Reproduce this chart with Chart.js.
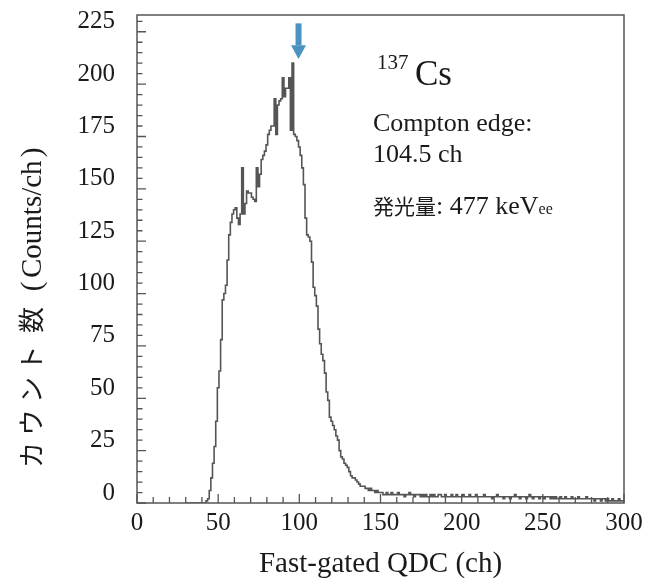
<!DOCTYPE html>
<html>
<head>
<meta charset="utf-8">
<script src="https://cdn.jsdelivr.net/npm/chart.js"></script>
<style>
  body { margin: 0; background: #fff; }
</style>
</head>
<body>
<canvas id="chart" width="658" height="582"></canvas>
<script>
// first channel of the histogram, one count per channel after it
const firstChannel = 30;

const counts = [
  // 30-43
  0, 0, 0, 0, 0, 0, 0, 0, 0, 0, 0, 0, 0, 1,
  // 44-150
  2, 6, 12, 19, 27, 39, 55, 63, 78, 97,
  100, 104, 116, 128, 134, 138, 140, 141, 136, 133,
  138, 160, 138, 143, 149, 148, 148, 146, 145, 144,
  160, 151, 157, 164, 166, 168, 171, 176, 178, 180,
  180, 193, 176, 190, 192, 193, 203, 194, 198, 198,
  203, 178, 210, 176, 175, 173, 170, 166, 160, 152,
  136, 128, 127, 125, 115, 103, 99, 94, 83, 76,
  71, 68, 62, 53, 49, 41, 39, 37, 35, 32,
  30, 25, 22, 21, 19, 18, 17, 15, 13, 12,
  12, 11, 10, 9, 8, 8, 8, 7, 7, 6,
  7, 6, 6, 5, 6, 5, 5,
  // 151-175
  5, 4, 4, 5, 4, 4, 5, 4, 4, 4, 5, 4, 4, 4, 3, 4, 4, 5, 4, 4, 3, 4, 4, 4, 3,
  // 176-215
  4, 3, 4, 3, 3, 4, 3, 4, 3, 3, 4, 4, 3, 3, 4, 3, 3, 3, 4, 3,
  3, 4, 3, 3, 3, 4, 3, 3, 3, 4, 3, 3, 3, 4, 3, 3, 3, 3, 4, 3,
  // 216-255
  3, 3, 3, 2, 3, 3, 4, 3, 3, 3, 2, 3, 3, 3, 2, 3, 3, 4, 3, 3,
  2, 3, 3, 3, 2, 3, 4, 3, 2, 3, 3, 3, 2, 3, 3, 2, 3, 3, 3, 2,
  // 256-300
  3, 2, 3, 2, 2, 3, 2, 2, 3, 2, 2, 2, 3, 2, 2, 2, 3, 2, 2, 2, 2, 3, 2,
  2, 2, 2, 1, 2, 2, 2, 1, 2, 2, 1, 2, 1, 1, 2, 1, 1, 1, 2, 1, 1, 1
];

const xTicks = [0, 50, 100, 150, 200, 250, 300];
const yTicks = [0, 25, 50, 75, 100, 125, 150, 175, 200, 225];

// marker above the peak (channel, counts)
const arrowChannel = 99.5;
const arrowTop = 229;
const arrowHeadBase = 218.5;
const arrowTip = 212;

const serif = "'Liberation Serif', 'Times New Roman', serif";
const cjk = "'Noto Sans CJK JP', sans-serif";

const points = counts.map((c, i) => ({ x: firstChannel + i, y: c }));

const decor = {
  id: 'decor',
  afterDraw(chart) {
    const { ctx, chartArea: a, scales: { x, y } } = chart;
    ctx.save();

    // frame
    ctx.strokeStyle = '#555';
    ctx.lineWidth = 1.5;
    ctx.strokeRect(a.left, a.top, a.right - a.left, a.bottom - a.top);

    // inward tick marks, major + minor
    ctx.lineWidth = 1.3;
    ctx.beginPath();
    for (let v = 0; v <= 300; v += 10) {
      const px = x.getPixelForValue(v);
      const len = v % 50 === 0 ? 9 : 6;
      ctx.moveTo(px, a.bottom);
      ctx.lineTo(px, a.bottom - len);
    }
    for (let v = 0; v <= 230; v += 5) {
      const py = y.getPixelForValue(v);
      const len = v % 25 === 0 ? 9 : 5.5;
      ctx.moveTo(a.left, py);
      ctx.lineTo(a.left + len, py);
    }
    ctx.stroke();

    // arrow
    const ax = x.getPixelForValue(arrowChannel);
    ctx.fillStyle = '#4a93c0';
    ctx.fillRect(ax - 3, y.getPixelForValue(arrowTop), 6, y.getPixelForValue(arrowHeadBase) - y.getPixelForValue(arrowTop));
    ctx.beginPath();
    ctx.moveTo(ax - 7.5, y.getPixelForValue(arrowHeadBase));
    ctx.lineTo(ax + 7.5, y.getPixelForValue(arrowHeadBase));
    ctx.lineTo(ax, y.getPixelForValue(arrowTip));
    ctx.closePath();
    ctx.fill();

    // annotations
    ctx.fillStyle = '#1a1a1a';
    ctx.textBaseline = 'alphabetic';
    ctx.textAlign = 'left';
    ctx.font = `21px ${serif}`;
    ctx.fillText('137', 377, 69);
    ctx.font = `35px ${serif}`;
    ctx.fillText('Cs', 415, 85);
    ctx.font = `26px ${serif}`;
    ctx.fillText('Compton edge:', 373, 130.5);
    ctx.fillText('104.5 ch', 373, 161.5);
    ctx.font = `21px ${cjk}`;
    ctx.fillText('発光量', 373, 214);
    let tx = 373 + ctx.measureText('発光量').width;
    ctx.font = `26px ${serif}`;
    ctx.fillText(': 477 keV', tx, 214);
    tx += ctx.measureText(': 477 keV').width;
    ctx.font = `16px ${serif}`;
    ctx.fillText('ee', tx, 214);

    // y axis title, rotated
    ctx.translate(41, 0);
    ctx.rotate(-Math.PI / 2);
    ctx.textAlign = 'center';
    ctx.font = `26px ${cjk}`;
    [['カ', 455], ['ウ', 422.5], ['ン', 390], ['ト', 358.5], ['数', 320]].forEach(([ch, c]) => {
      ctx.fillText(ch, -c, 0);
    });
    ctx.font = `29px ${serif}`;
    ctx.fillText('(', -286.5, 0);
    ctx.textAlign = 'left';
    ctx.fillText('Counts/ch', -278, 0);
    ctx.textAlign = 'center';
    ctx.fillText(')', -152.5, 0);

    ctx.restore();
  }
};

const ctx = document.getElementById('chart').getContext('2d');
new Chart(ctx, {
  type: 'line',
  data: {
    datasets: [
      {
        data: points,
        stepped: 'middle',
        borderColor: '#555',
        borderWidth: 1.6,
        pointRadius: 0,
        fill: false,
      }
    ]
  },
  options: {
    responsive: false,
    animation: false,
    layout: { padding: { top: 15, right: 34, left: 0, bottom: 0 } },
    plugins: {
      legend: { display: false },
      tooltip: { enabled: false }
    },
    scales: {
      x: {
        type: 'linear',
        min: 0,
        max: 300,
        afterBuildTicks: s => { s.ticks = xTicks.map(v => ({ value: v })); },
        afterFit: s => {
          s.height = 79;
          s.paddingLeft = 0;
          s.paddingRight = 0;
        },
        grid: { display: false, drawTicks: false },
        border: { display: false },
        ticks: {
          autoSkip: false,
          maxRotation: 0,
          padding: 5,
          color: '#1a1a1a',
          font: { family: serif, size: 25 }
        },
        title: {
          display: true,
          text: 'Fast-gated QDC (ch)',
          color: '#1a1a1a',
          padding: { top: 0, bottom: 0 },
          font: { family: serif, size: 29 }
        }
      },
      y: {
        type: 'linear',
        min: 0,
        max: 233,
        afterBuildTicks: s => { s.ticks = yTicks.map(v => ({ value: v })); },
        afterFit: s => {
          s.width = 137;
          s.paddingTop = 0;
          s.paddingBottom = 0;
        },
        grid: { display: false, drawTicks: false },
        border: { display: false },
        ticks: {
          padding: 22,
          labelOffset: -10,
          color: '#1a1a1a',
          font: { family: serif, size: 25 }
        }
      }
    }
  },
  plugins: [decor]
});
</script>
</body>
</html>
